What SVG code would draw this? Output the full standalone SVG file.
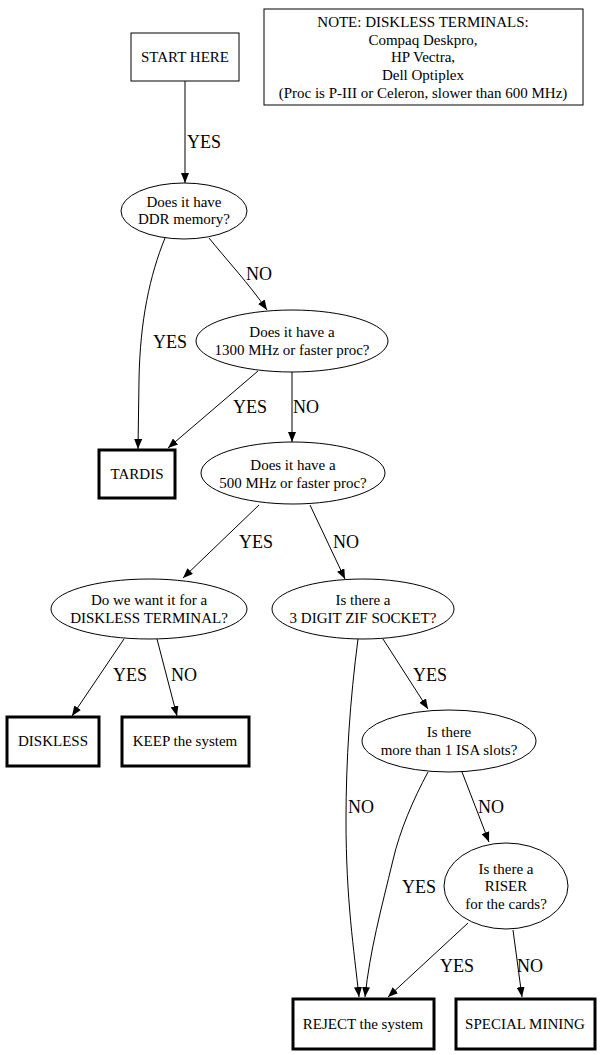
<svg xmlns="http://www.w3.org/2000/svg" width="603" height="1055" viewBox="0 0 603 1055">
<defs>
<marker id="ah" viewBox="0 0 10 8" refX="10" refY="4" markerWidth="10" markerHeight="8" markerUnits="userSpaceOnUse" orient="auto">
<path d="M0,0 L10,4 L0,8 z" fill="#000"/>
</marker>
<style>
text{font-family:"Liberation Serif","Times New Roman",serif;fill:#000}
.n{font-size:15px;text-anchor:middle}
.l{font-size:18px}
.box{fill:#fff;stroke:#000;stroke-width:1}
.end{fill:#fff;stroke:#000;stroke-width:3}
.ell{fill:#fff;stroke:#000;stroke-width:1}
.e{fill:none;stroke:#000;stroke-width:1;marker-end:url(#ah)}
</style>
</defs>
<rect width="603" height="1055" fill="#fff"/>
<g id="connectors">
<path class="e" d="M185,81 L185,183"/>
<path class="e" d="M165,238 C150,275 140,320 139,380 L138,449"/>
<path class="e" d="M209,238 C225,258 250,285 267,310"/>
<path class="e" d="M258,371 L168,448"/>
<path class="e" d="M292,372 L292,442"/>
<path class="e" d="M259,505 L183,578"/>
<path class="e" d="M310,505 L345,579"/>
<path class="e" d="M124,639 L72,716"/>
<path class="e" d="M157,639 L177,716"/>
<path class="e" d="M358,639 C350,700 346,760 346,820 C346,900 354,950 359,997"/>
<path class="e" d="M383,639 L428,709"/>
<path class="e" d="M428,772 C413,800 400,830 393,860 C381,910 370,950 365,997"/>
<path class="e" d="M462,772 L489,842"/>
<path class="e" d="M468,923 L388,997"/>
<path class="e" d="M513,930 L522,997"/>
<text class="l" x="187" y="148">YES</text>
<text class="l" x="153" y="348">YES</text>
<text class="l" x="246" y="280">NO</text>
<text class="l" x="233" y="413">YES</text>
<text class="l" x="293" y="413">NO</text>
<text class="l" x="239" y="548">YES</text>
<text class="l" x="333" y="548">NO</text>
<text class="l" x="113" y="681">YES</text>
<text class="l" x="171" y="681">NO</text>
<text class="l" x="348" y="813">NO</text>
<text class="l" x="413" y="681">YES</text>
<text class="l" x="402" y="893">YES</text>
<text class="l" x="478" y="813">NO</text>
<text class="l" x="440" y="972">YES</text>
<text class="l" x="517" y="972">NO</text>
</g>
<g id="note">
<rect class="box" x="264" y="9" width="319" height="96"/>
<text class="n" x="423" y="27">NOTE: DISKLESS TERMINALS:</text>
<text class="n" x="423" y="45">Compaq Deskpro,</text>
<text class="n" x="423" y="62">HP Vectra,</text>
<text class="n" x="423" y="80">Dell Optiplex</text>
<text class="n" x="423" y="98">(Proc is P-III or Celeron, slower than 600 MHz)</text>
</g>
<g id="start">
<rect class="box" x="131" y="33" width="108" height="48"/>
<text class="n" x="185" y="62">START HERE</text>
</g>
<g id="ddr">
<ellipse class="ell" cx="184" cy="211" rx="63" ry="28"/>
<text class="n" x="184" y="207">Does it have</text>
<text class="n" x="184" y="224">DDR memory?</text>
</g>
<g id="p1300">
<ellipse class="ell" cx="292" cy="341" rx="96" ry="31"/>
<text class="n" x="292" y="337">Does it have a</text>
<text class="n" x="292" y="355">1300 MHz or faster proc?</text>
</g>
<g id="tardis">
<rect class="end" x="99" y="450" width="76" height="48"/>
<text class="n" x="137" y="479">TARDIS</text>
</g>
<g id="p500">
<ellipse class="ell" cx="293" cy="473" rx="92" ry="31"/>
<text class="n" x="293" y="470">Does it have a</text>
<text class="n" x="293" y="488">500 MHz or faster proc?</text>
</g>
<g id="dterm">
<ellipse class="ell" cx="149" cy="609" rx="98" ry="30"/>
<text class="n" x="149" y="605">Do we want it for a</text>
<text class="n" x="149" y="623">DISKLESS TERMINAL?</text>
</g>
<g id="zif">
<ellipse class="ell" cx="363" cy="609" rx="91" ry="30"/>
<text class="n" x="363" y="605">Is there a</text>
<text class="n" x="363" y="623">3 DIGIT ZIF SOCKET?</text>
</g>
<g id="diskless">
<rect class="end" x="7" y="717" width="92" height="49"/>
<text class="n" x="53" y="746">DISKLESS</text>
</g>
<g id="keep">
<rect class="end" x="122" y="717" width="127" height="49"/>
<text class="n" x="185" y="746">KEEP the system</text>
</g>
<g id="isa">
<ellipse class="ell" cx="449" cy="741" rx="87" ry="31"/>
<text class="n" x="449" y="737">Is there</text>
<text class="n" x="449" y="755">more than 1 ISA slots?</text>
</g>
<g id="riser">
<ellipse class="ell" cx="506" cy="886" rx="62" ry="43"/>
<text class="n" x="506" y="874">Is there a</text>
<text class="n" x="506" y="891">RISER</text>
<text class="n" x="506" y="909">for the cards?</text>
</g>
<g id="reject">
<rect class="end" x="293" y="999" width="141" height="50"/>
<text class="n" x="363" y="1029">REJECT the system</text>
</g>
<g id="special">
<rect class="end" x="456" y="999" width="139" height="50"/>
<text class="n" x="525" y="1029">SPECIAL MINING</text>
</g>
</svg>
